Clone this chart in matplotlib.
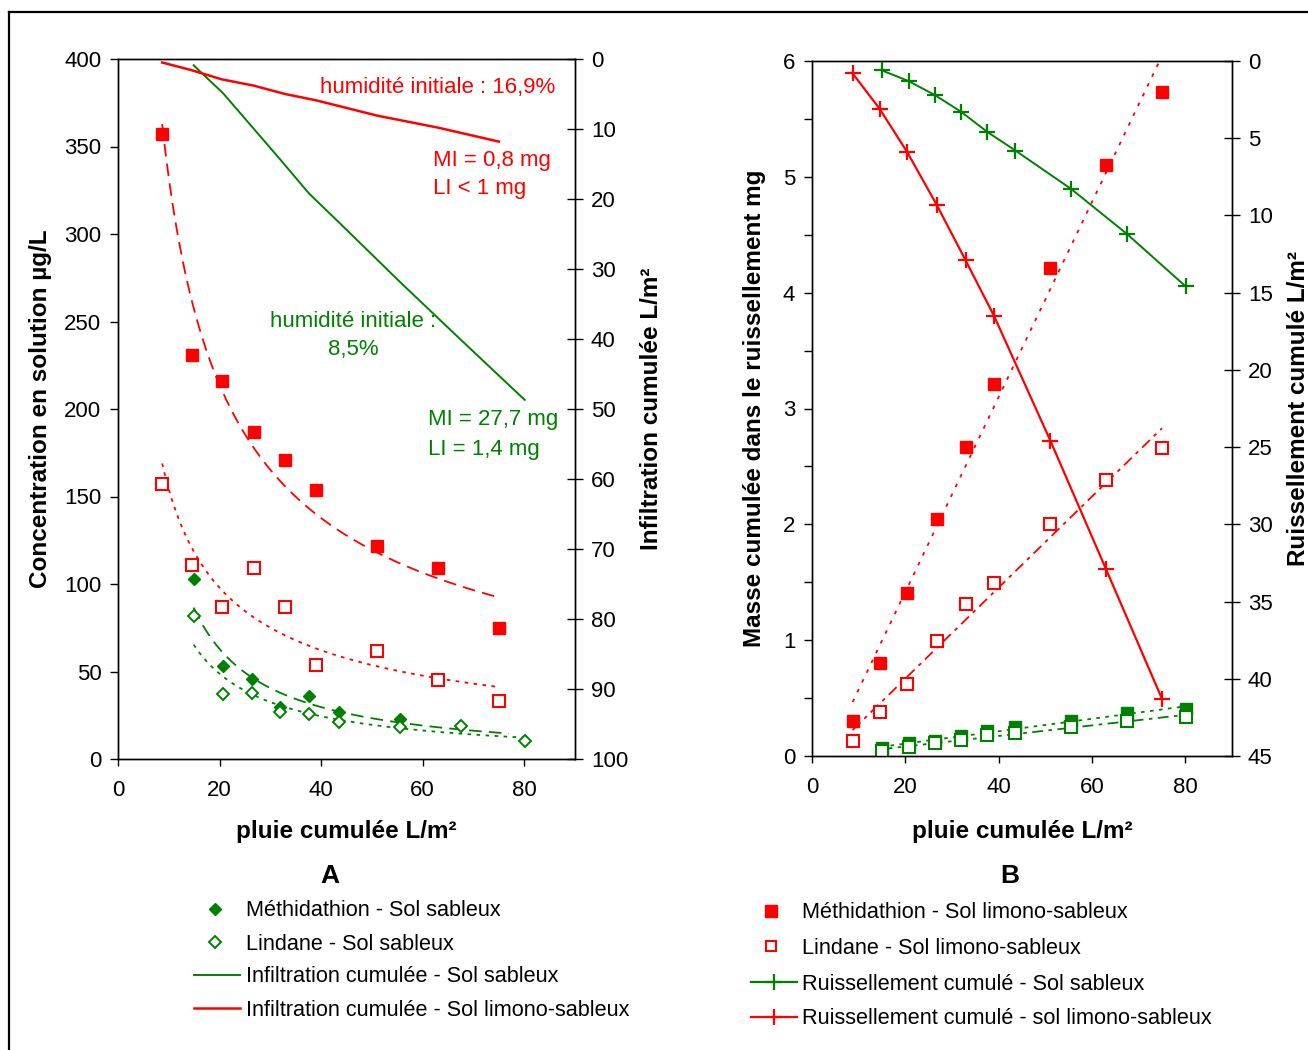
import numpy as np
import matplotlib
matplotlib.use('Agg')
import matplotlib.pyplot as plt
from matplotlib.lines import Line2D
from matplotlib.ticker import MultipleLocator

plt.rcParams['font.family'] = ['Liberation Sans', 'DejaVu Sans']

RED = '#FF0000'
GREEN = '#008000'

# ---------------- Data ----------------
# Panel A (concentration + infiltration)
x_limono = [8.7, 14.5, 20.4, 26.7, 32.9, 39.0, 51.1, 63.0, 75.0]
conc_meth_limono = [357, 231, 216, 187, 171, 154, 122, 109, 75]
conc_lind_limono = [157, 111, 87, 109, 87, 54, 62, 45, 33]
x_sable = [14.9, 20.7, 26.3, 32.0, 37.6, 43.6, 55.6, 67.5, 80.1]
x_sable_meth = [14.9, 20.7, 26.3, 32.0, 37.6, 43.6, 55.6]
conc_meth_sable = [103, 53, 45.5, 30, 36, 27, 22.7]
conc_lind_sable = [82, 37, 38, 27, 26, 21, 18.5, 19, 10.5]
infil_limono = [0.5, 1.6, 2.9, 3.8, 5.0, 5.9, 8.1, 9.8, 11.8]
infil_sable = [0.9, 4.9, 9.6, 14.4, 19.2, 23.4, 31.9, 40.1, 48.7]

# Panel B (mass in runoff + cumulated runoff)
mass_meth_limono = [0.30, 0.80, 1.41, 2.05, 2.67, 3.21, 4.21, 5.10, 5.73]
mass_lind_limono = [0.13, 0.38, 0.62, 0.99, 1.31, 1.49, 2.00, 2.38, 2.66]
mass_meth_sable = [0.066, 0.11, 0.13, 0.17, 0.22, 0.25, 0.30, 0.37, 0.41]
mass_lind_sable = [0.046, 0.075, 0.11, 0.14, 0.18, 0.20, 0.25, 0.30, 0.34]
runoff_limono = [0.8, 3.1, 5.9, 9.3, 12.9, 16.5, 24.6, 32.9, 41.3]
runoff_sable = [0.6, 1.3, 2.2, 3.3, 4.6, 5.8, 8.3, 11.2, 14.6]

xticks = [0, 20, 40, 60, 80]

W, H = 1308, 1050
fig = plt.figure(figsize=(W / 100, H / 100), dpi=100)


def fx(px):
    return px / W


def fy(py):
    return 1 - py / H


def power_fit(x, y, x0, x1):
    b, a = np.polyfit(np.log(x), np.log(y), 1)
    xs = np.linspace(x0, x1, 200)
    return xs, np.exp(a) * xs ** b


def lin_fit(x, y):
    m, c = np.polyfit(x, y, 1)
    xs = np.linspace(min(x), max(x), 50)
    return xs, m * xs + c


FS = 16
LFS = 15.6
LBL = dict(fontsize=17.5, fontweight='bold')


def style_axes(ax, ax2):
    for a in (ax, ax2):
        for s in a.spines.values():
            s.set_linewidth(1.0)
            s.set_color('black')
    ax.tick_params(axis='y', direction='out', length=6, width=1, labelsize=FS, pad=6)
    ax.tick_params(axis='y', which='minor', direction='out', length=6, width=1)
    ax.tick_params(axis='x', direction='out', length=5, width=1, labelsize=FS, pad=10)
    ax2.tick_params(axis='y', direction='inout', length=11, width=1, labelsize=FS, pad=6)
    ax.set_xlim(0, 90)
    ax.set_xticks(xticks)


# ---------------- Panel A ----------------
axA = fig.add_axes([fx(118), fy(759), fx(575 - 118), (759 - 59) / H])
axA2 = axA.twinx()
style_axes(axA, axA2)
axA.set_ylim(0, 400)
axA.set_yticks(range(0, 401, 50))
axA2.set_ylim(100, 0)
axA2.set_yticks(range(0, 101, 10))

# infiltration lines (right axis)
axA2.plot(x_sable, infil_sable, color=GREEN, lw=1.4, zorder=3)
axA2.plot(x_limono, infil_limono, color=RED, lw=1.8, zorder=3)

# concentrations
axA.plot(x_limono, conc_meth_limono, 's', color=RED, ms=8.5, zorder=4)
axA.plot(x_limono, conc_lind_limono, 's', mfc='white', mec=RED, mew=1.5, ms=8, color=RED, zorder=4)
axA.plot(x_sable_meth, conc_meth_sable, 'D', color=GREEN, ms=6.5, zorder=4)
axA.plot(x_sable, conc_lind_sable, 'D', mfc='white', mec=GREEN, mew=1.4, ms=6.5, zorder=4)

xs, ys = power_fit(x_limono, conc_meth_limono, x_limono[0], x_limono[-1])
axA.plot(xs, ys, color=RED, lw=1.3, dashes=(7, 4), zorder=3)
xs, ys = power_fit(x_limono, conc_lind_limono, x_limono[0], x_limono[-1])
axA.plot(xs, ys, color=RED, lw=1.3, dashes=(2, 3), zorder=3)
xs, ys = power_fit(x_sable_meth, conc_meth_sable, x_sable[0], 77)
axA.plot(xs, ys, color=GREEN, lw=1.3, dashes=(7, 4), zorder=3)
xs, ys = power_fit(x_sable, conc_lind_sable, x_sable[0], x_sable[-1])
axA.plot(xs, ys, color=GREEN, lw=1.3, dashes=(2, 3), zorder=3)

axA.set_ylabel('Concentration en solution µg/L', **LBL)
axA.yaxis.set_label_coords(-0.144, 0.5)
axA2.set_ylabel('Infiltration cumulée L/m²', **LBL)
axA2.yaxis.set_label_coords(1.142, 0.5)
axA.set_xlabel('pluie cumulée L/m²', **LBL)
axA.xaxis.set_label_coords(0.5, -0.087)

axA.text(39.8, 384, 'humidité initiale : 16,9%', color=RED, fontsize=FS, ha='left', va='center')
axA.text(62.0, 342, 'MI = 0,8 mg', color=RED, fontsize=FS, ha='left', va='center')
axA.text(62.0, 326, 'LI < 1 mg', color=RED, fontsize=FS, ha='left', va='center')
axA.text(46.3, 250, 'humidité initiale :', color=GREEN, fontsize=FS, ha='center', va='center')
axA.text(46.3, 234, '8,5%', color=GREEN, fontsize=FS, ha='center', va='center')
axA.text(61.0, 194, 'MI = 27,7 mg', color=GREEN, fontsize=FS, ha='left', va='center')
axA.text(61.0, 177, 'LI = 1,4 mg', color=GREEN, fontsize=FS, ha='left', va='center')

# ---------------- Panel B ----------------
axB = fig.add_axes([fx(812), fy(756), fx(1232 - 812), (756 - 61) / H])
axB2 = axB.twinx()
style_axes(axB, axB2)
axB.set_ylim(0, 6)
axB.yaxis.set_major_locator(MultipleLocator(1))
axB.yaxis.set_minor_locator(MultipleLocator(0.5))
axB2.set_ylim(45, 0)
axB2.set_yticks(range(0, 46, 5))

axB2.plot(x_sable, runoff_sable, color=GREEN, lw=1.4, marker='+', ms=11, mew=1.6, zorder=3)
axB2.plot(x_limono, runoff_limono, color=RED, lw=1.6, marker='+', ms=11, mew=1.6, zorder=3)

axB.plot(x_limono, mass_meth_limono, 's', color=RED, ms=8.5, zorder=4)
axB.plot(x_limono, mass_lind_limono, 's', mfc='white', mec=RED, mew=1.5, ms=8, zorder=4)
axB.plot(x_sable, mass_meth_sable, 's', color=GREEN, ms=8.5, zorder=4)
axB.plot(x_sable, mass_lind_sable, 's', mfc='white', mec=GREEN, mew=1.5, ms=8, zorder=4)

xs, ys = lin_fit(x_limono, mass_meth_limono)
axB.plot(xs, ys, color=RED, lw=1.3, dashes=(2, 4), zorder=3)
xs, ys = lin_fit(x_limono, mass_lind_limono)
axB.plot(xs, ys, color=RED, lw=1.3, dashes=(6, 3, 2, 3), zorder=3)
xs, ys = lin_fit(x_sable, mass_meth_sable)
axB.plot(xs, ys, color=GREEN, lw=1.3, dashes=(2, 3), zorder=3)
xs, ys = lin_fit(x_sable, mass_lind_sable)
axB.plot(xs, ys, color=GREEN, lw=1.3, dashes=(6, 3, 2, 3), zorder=3)

axB.set_ylabel('Masse cumulée dans le ruissellement mg', **LBL)
axB.yaxis.set_label_coords(-0.110, 0.5)
axB2.set_ylabel('Ruissellement cumulé L/m²', **LBL)
axB2.yaxis.set_label_coords(1.131, 0.5)
axB.set_xlabel('pluie cumulée L/m²', **LBL)
axB.xaxis.set_label_coords(0.5, -0.092)

# ---------------- Legends ----------------
fig.text(fx(330), fy(876), 'A', fontsize=19, fontweight='bold', ha='center', va='center')
fig.text(fx(1010), fy(876), 'B', fontsize=19, fontweight='bold', ha='center', va='center')


def leg_marker(px, py, **kw):
    fig.add_artist(Line2D([fx(px)], [fy(py)], transform=fig.transFigure, ls='none', **kw))


def leg_line(px0, px1, py, color, lw=1.6):
    fig.add_artist(Line2D([fx(px0), fx(px1)], [fy(py), fy(py)], transform=fig.transFigure,
                          color=color, lw=lw))


def leg_text(px, py, s):
    fig.text(fx(px), fy(py + 2), s, fontsize=LFS, ha='left', va='center')


leg_rows_A = [909, 942, 975, 1008]
leg_marker(215, leg_rows_A[0], marker='D', color=GREEN, ms=6.5)
leg_text(246, leg_rows_A[0], 'Méthidathion - Sol sableux')
leg_marker(215, leg_rows_A[1], marker='D', mfc='white', mec=GREEN, mew=1.4, ms=6)
leg_text(246, leg_rows_A[1], 'Lindane - Sol sableux')
leg_line(194, 240, leg_rows_A[2], GREEN, 1.4)
leg_text(246, leg_rows_A[2], 'Infiltration cumulée - Sol sableux')
leg_line(194, 240, leg_rows_A[3], RED, 1.8)
leg_text(246, leg_rows_A[3], 'Infiltration cumulée - Sol limono-sableux')

leg_rows_B = [911, 946, 982, 1017]
leg_marker(771, leg_rows_B[0], marker='s', color=RED, ms=8)
leg_text(802, leg_rows_B[0], 'Méthidathion - Sol limono-sableux')
leg_marker(771, leg_rows_B[1], marker='s', mfc='white', mec=RED, mew=1.5, ms=7)
leg_text(802, leg_rows_B[1], 'Lindane - Sol limono-sableux')
leg_line(751, 797, leg_rows_B[2], GREEN, 1.6)
leg_marker(774, leg_rows_B[2], marker='+', color=GREEN, ms=11, mew=1.6)
leg_text(802, leg_rows_B[2], 'Ruissellement cumulé - Sol sableux')
leg_line(751, 797, leg_rows_B[3], RED, 1.6)
leg_marker(774, leg_rows_B[3], marker='+', color=RED, ms=11, mew=1.6)
leg_text(802, leg_rows_B[3], 'Ruissellement cumulé - sol limono-sableux')

# figure frame (left and top edges visible)
fig.add_artist(Line2D([fx(9), fx(9)], [0, fy(12)], transform=fig.transFigure, color='black', lw=1.6))
fig.add_artist(Line2D([fx(9), 1], [fy(12), fy(12)], transform=fig.transFigure, color='black', lw=1.6))

fig.savefig('out.png', dpi=100)
